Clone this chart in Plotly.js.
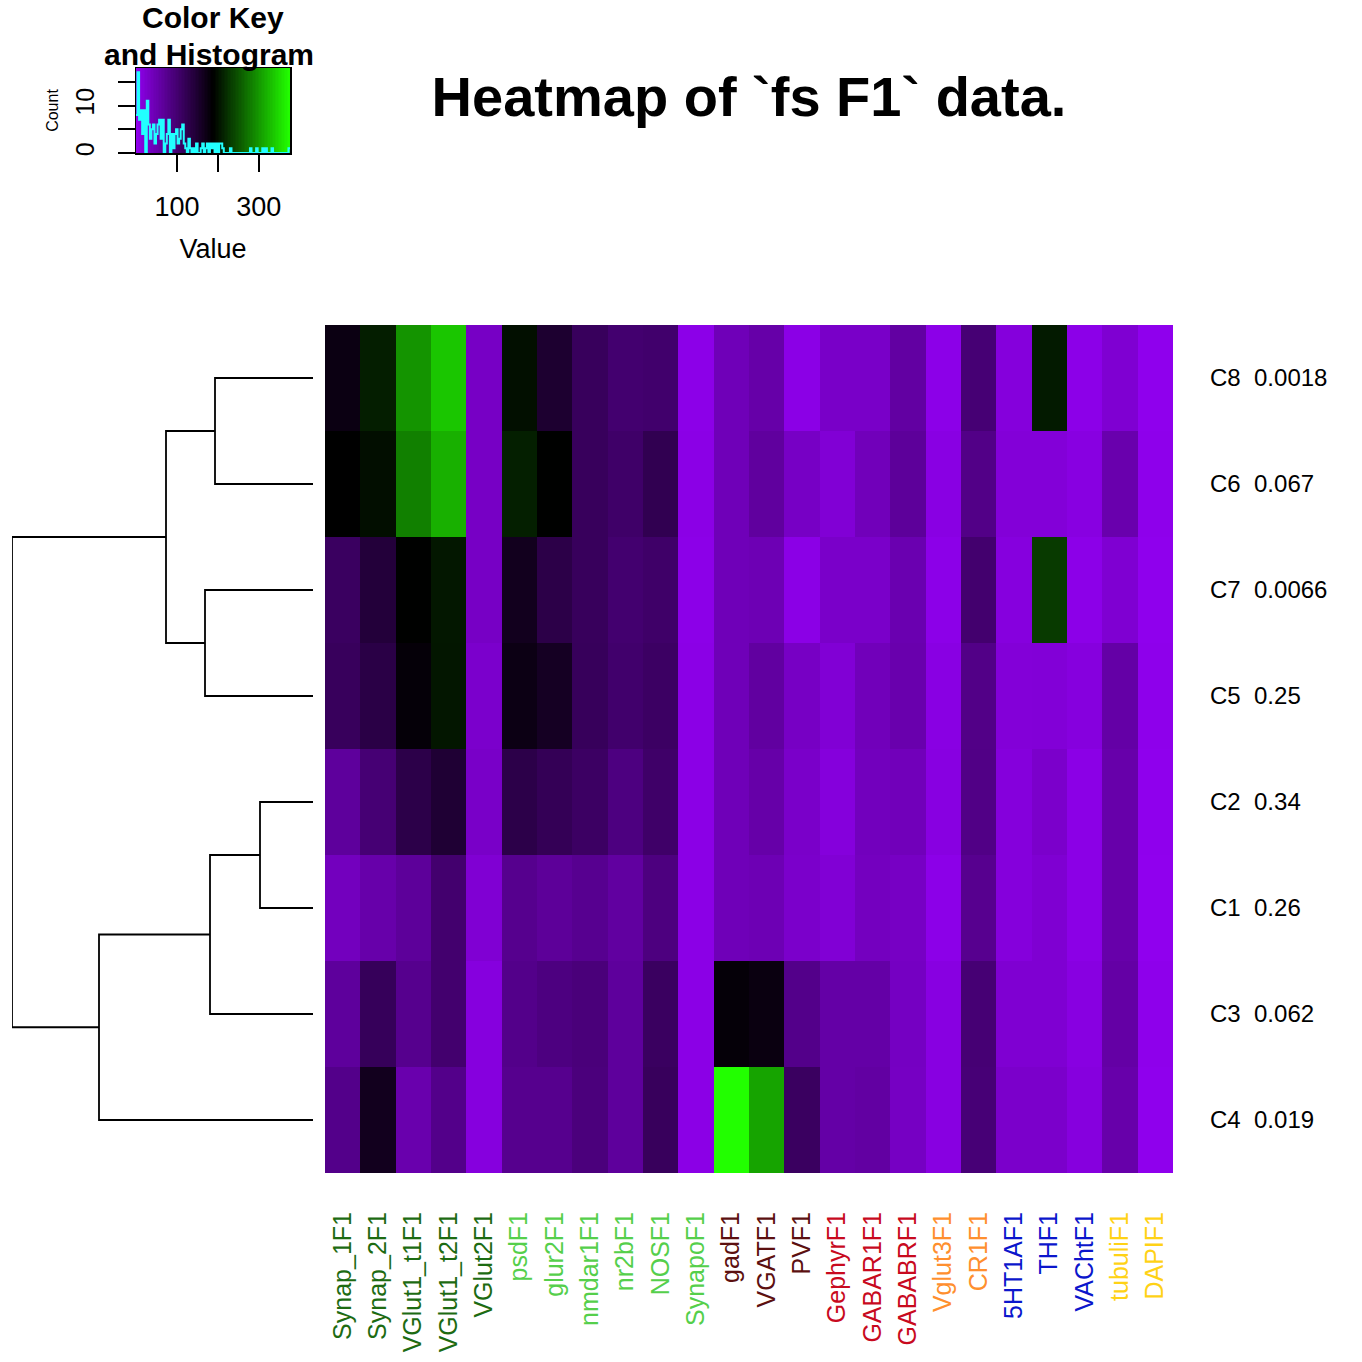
<!DOCTYPE html>
<html>
<head>
<meta charset="utf-8">
<script src="https://cdn.plot.ly/plotly-3.0.1.min.js"></script>
<style>html,body{margin:0;padding:0;background:#fff;}#chart{width:1362px;height:1362px;}</style>
</head>
<body>
<div id="chart"></div>
<script>
// ---- data ----
const colLabels = ['Synap_1F1','Synap_2F1','VGlut1_t1F1','VGlut1_t2F1','VGlut2F1','psdF1','glur2F1','nmdar1F1','nr2bF1','NOSF1','SynapoF1','gadF1','VGATF1','PVF1','GephyrF1','GABAR1F1','GABABRF1','Vglut3F1','CR1F1','5HT1AF1','THF1','VAChtF1','tubuliF1','DAPIF1'];
const colColors = ['#1D6B12','#1D6B12','#1D6B12','#1D6B12','#1D6B12','#55CF4B','#55CF4B','#55CF4B','#55CF4B','#55CF4B','#55CF4B','#5C1010','#5C1010','#5C1010','#C80A1E','#C80A1E','#C80A1E','#FF8F2E','#FF8F2E','#0B16CC','#0B16CC','#0B16CC','#FFD216','#FFD216'];
const rowNames = ['C8','C6','C7','C5','C2','C1','C3','C4'];
const rowPvals = ['0.0018','0.067','0.0066','0.25','0.34','0.26','0.062','0.019'];

const C8 = [174,210,297,334,32,199,150,115,100,103,5,43,55,6,30,30,60,5,96,14,207,5,22,1];
const C6 = [188,198,282,318,32,211,189,115,106,124,6,43,63,32,20,41,66,9,81,17,17,10,51,2];
const C7 = [112,142,189,205,32,164,131,115,100,106,5,43,46,6,29,29,49,5,101,13,231,5,22,1];
const C5 = [115,133,182,204,27,172,160,116,103,110,6,43,62,33,20,41,51,9,81,17,18,13,57,2];
const C2 = [65,96,130,147,30,130,120,110,87,106,6,43,55,29,14,39,41,10,82,14,28,6,54,1];
const C1 = [38,54,66,101,21,76,67,74,62,88,6,43,46,28,20,37,33,5,75,14,22,6,54,0];
const C3 = [65,117,76,101,13,79,87,92,65,112,6,182,175,79,57,57,35,10,96,22,22,10,58,2];
const C4 = [79,164,51,79,13,76,76,90,65,115,6,376,309,112,57,60,34,10,95,28,28,13,54,1];

// row dendrogram (hclust style: negative = leaf position (1-based), positive = earlier merge)
const mergeA = [-1,-3,1,-5,4,5,3];
const mergeB = [-2,-4,2,-6,-7,-8,6];
const mergeH = [98,108,147,53,103,214,301];

const keyTicks = [100,200,300];
const keyTickText = ['100','','300'];
const countTicks = [0,5,10,15];
const countTickText = ['0','','10',''];
const nBins = 100;

// ---- build ----
const Z = [C8,C6,C7,C5,C2,C1,C3,C4];
const flat = Z.flat();
const zmin = Math.min(...flat), zmax = Math.max(...flat);
const cscale = [[0,'#9000EE'],[0.5,'#000000'],[1,'#22FF00']];
const colIdx = colLabels.map((_,i)=>i);
const rowIdx = rowNames.map((_,i)=>i);

const heat = {type:'heatmap', z:Z, x:colIdx, y:rowIdx, colorscale:cscale, zmin:zmin, zmax:zmax, showscale:false, xaxis:'x', yaxis:'y', hoverinfo:'skip'};

// dendrogram
const nodes = [];
function nodeOf(k){ return k<0 ? {y:-k-1, h:0} : nodes[k-1]; }
const dx=[], dy=[];
for(let i=0;i<mergeH.length;i++){
  const a=nodeOf(mergeA[i]), b=nodeOf(mergeB[i]), h=mergeH[i];
  dx.push(a.h,h,h,b.h,null); dy.push(a.y,a.y,b.y,b.y,null);
  nodes.push({y:(a.y+b.y)/2, h:h});
}
const dend = {type:'scatter', mode:'lines', x:dx, y:dy, xaxis:'x2', yaxis:'y', line:{color:'#000', width:1.8}, hoverinfo:'skip', showlegend:false};

// color key + histogram of the cell values
const w = (zmax-zmin)/nBins;
const breaks = Array.from({length:nBins+1},(_,i)=>zmin+i*w);
const mids = breaks.slice(0,-1).map(b=>b+w/2);
const counts = new Array(nBins).fill(0);
flat.forEach(v=>{ let k=Math.ceil((v-zmin)/w)-1; if(k<0)k=0; if(k>=nBins)k=nBins-1; counts[k]++; });
const hy = counts.concat([counts[counts.length-1]]);
const maxC = Math.max(...hy);
const keyHeat = {type:'heatmap', z:[mids], x:mids, y:[0], colorscale:cscale, zmin:zmin, zmax:zmax, showscale:false, xaxis:'x3', yaxis:'y3', hoverinfo:'skip'};
const hist = {type:'scatter', mode:'lines', x:breaks, y:hy, line:{shape:'hv', color:'#22FFFF', width:2}, xaxis:'x3', yaxis:'y4', hoverinfo:'skip', showlegend:false};

const F = 'Liberation Sans, Arial, Helvetica, sans-serif';
const P = v=>v/1362;

const layout = {
  width:1362, height:1362, margin:{l:0,r:0,t:0,b:0}, paper_bgcolor:'#fff', plot_bgcolor:'rgba(0,0,0,0)', showlegend:false,
  font:{family:F, color:'#000'},
  title:{text:'Heatmap of `fs F1` data.', x:P(749), xanchor:'center', y:1-P(96), yanchor:'middle', font:{family:F, size:56, weight:'bold', color:'#000'}},
  xaxis:{domain:[P(325),P(1173)], range:[-0.5,23.5], tickvals:colIdx, ticktext:colLabels.map((t,i)=>'<span style="color:'+colColors[i]+'">'+t+'</span>'), tickangle:-90, ticks:'', showgrid:false, zeroline:false, showline:false, tickfont:{size:25, family:F}, ticklabelstandoff:33, anchor:'y'},
  yaxis:{domain:[1-P(1173),1-P(325)], range:[7.5,-0.5], side:'right', tickvals:rowIdx, ticktext:rowNames.map((n,i)=>n+'\u00a0\u00a0'+rowPvals[i]), ticks:'', showgrid:false, zeroline:false, showline:false, tickfont:{size:24, family:F}, ticklabelstandoff:36, anchor:'x'},
  xaxis2:{domain:[P(12),P(313)], range:[301,0], visible:false, anchor:'y'},
  xaxis3:{domain:[P(136),P(290)], range:[zmin,zmax], anchor:'y3', showline:true, mirror:true, linecolor:'#000', linewidth:1.5, ticks:'outside', ticklen:17, tickwidth:2, tickcolor:'#000', tickvals:keyTicks, ticktext:keyTickText, tickfont:{size:27, family:F}, ticklabelstandoff:12, showgrid:false, zeroline:false, title:{text:'Value', font:{size:27, family:F}, standoff:18}},
  yaxis3:{domain:[1-P(153),1-P(68)], range:[-0.5,0.5], anchor:'x3', showline:true, mirror:true, linecolor:'#000', linewidth:1.5, ticks:'', showticklabels:false, showgrid:false, zeroline:false},
  yaxis4:{domain:[1-P(153),1-P(68)], overlaying:'y3', anchor:'x3', side:'left', range:[0,maxC/0.95], ticks:'outside', ticklen:17, tickwidth:2, tickcolor:'#000', tickvals:countTicks, ticktext:countTickText, tickangle:-90, tickfont:{size:25, family:F}, ticklabelstandoff:14, showgrid:false, zeroline:false, showline:false, title:{text:'Count', font:{size:16, family:F}, standoff:8}},
  annotations:[
    {text:'<b>Color Key</b>', xref:'paper', yref:'paper', x:P(213), y:1-P(18), xanchor:'center', yanchor:'middle', showarrow:false, font:{size:30, family:F}},
    {text:'<b>and Histogram</b>', xref:'paper', yref:'paper', x:P(209), y:1-P(55), xanchor:'center', yanchor:'middle', showarrow:false, font:{size:30, family:F}}
  ]
};
Plotly.newPlot('chart', [heat, dend, keyHeat, hist], layout, {staticPlot:true, displayModeBar:false});
</script>
</body>
</html>
